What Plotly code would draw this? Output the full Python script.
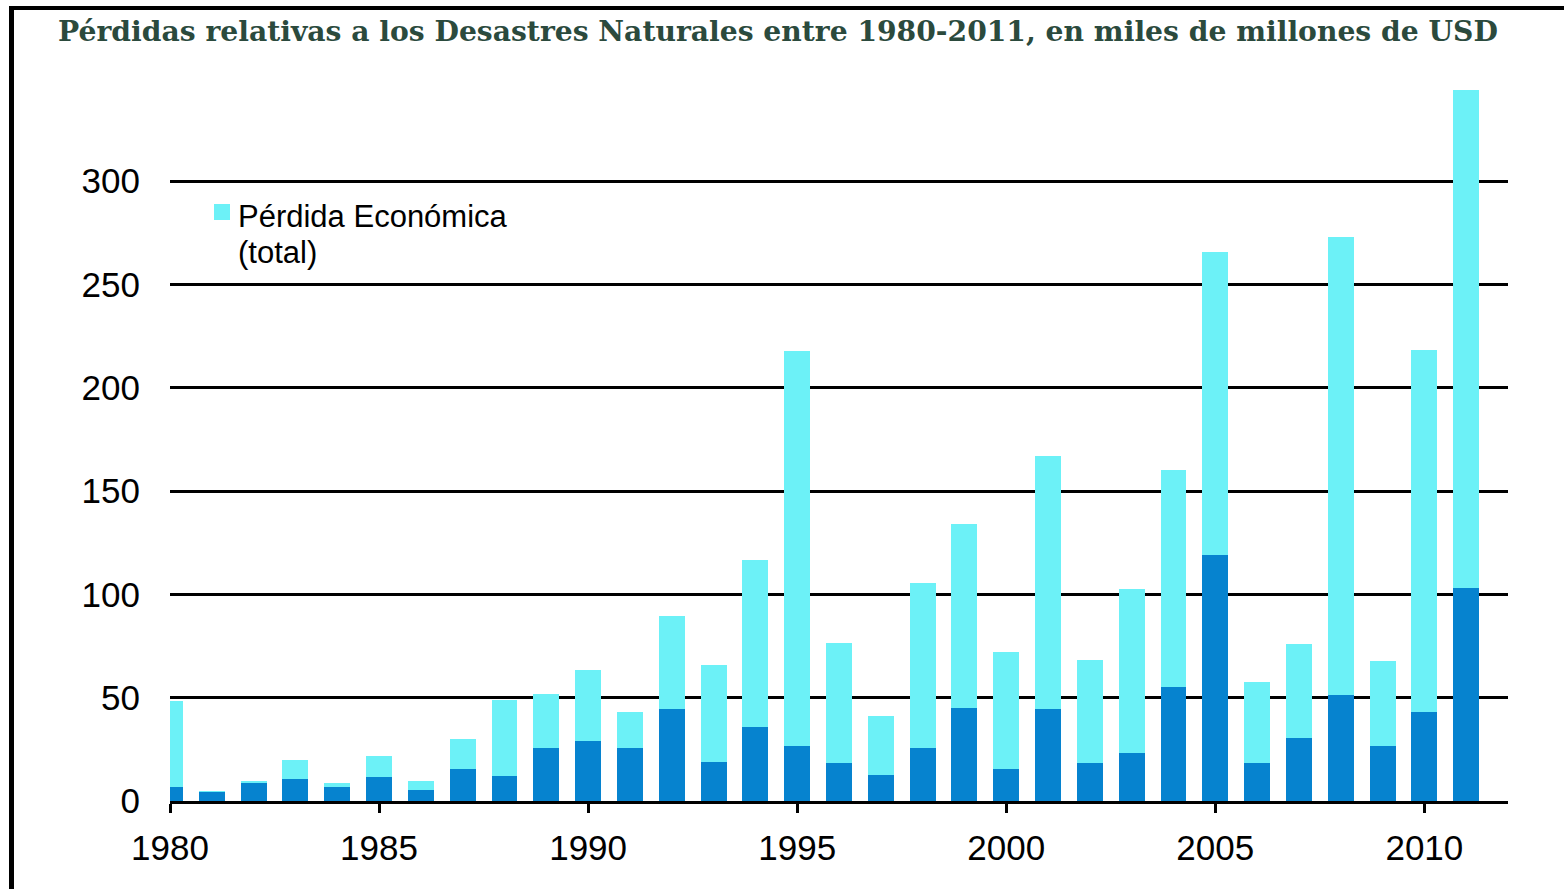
import plotly.graph_objects as go

years = list(range(1980, 2012))
total_loss = [48.4, 4.8, 9.7, 19.8, 8.9, 21.9, 9.7, 30.0, 48.9, 51.8,
              63.4, 43.1, 89.5, 65.8, 116.6, 217.9, 76.3, 41.3, 105.5, 133.9,
              72.1, 166.8, 68.2, 102.6, 160.0, 265.5, 57.7, 76.0, 272.9, 67.7,
              218.0, 344.0]
insured_loss = [6.8, 4.3, 8.9, 10.5, 6.9, 11.8, 5.5, 15.5, 12.1, 25.6,
                29.0, 25.6, 44.5, 18.9, 35.9, 26.6, 18.5, 12.7, 25.8, 45.1,
                15.5, 44.7, 18.2, 23.4, 55.3, 119.0, 18.5, 30.3, 51.1, 26.6,
                43.1, 103.0]
x_ticks = [1980, 1985, 1990, 1995, 2000, 2005, 2010]
y_ticks = [0, 50, 100, 150, 200, 250, 300]

title_text = "Pérdidas relativas a los Desastres Naturales entre 1980-2011, en miles de millones de USD"
legend_line1 = "Pérdida Económica"
legend_line2 = "(total)"

CYAN = "#6CF1F7"
BLUE = "#0683CF"

W, H = 1564, 889
L, R, T, B = 170, 56, 88, 88
pw, ph = W - L - R, H - T - B


def px_x(p):
    return (p - L) / pw


def px_y(p):
    return (H - B - p) / ph


fig = go.Figure()
fig.add_trace(go.Bar(x=years, y=total_loss, marker=dict(color=CYAN, line=dict(width=0)),
                     width=0.62, name="Pérdida Económica (total)", showlegend=False))
fig.add_trace(go.Bar(x=years, y=insured_loss, marker=dict(color=BLUE, line=dict(width=0)),
                     width=0.62, name="Pérdida asegurada", showlegend=False))

shapes = [
    # frame lines (top and left)
    dict(type="line", xref="paper", yref="paper", x0=px_x(9), x1=px_x(W + 5), y0=px_y(8), y1=px_y(8),
         line=dict(color="black", width=4)),
    dict(type="line", xref="paper", yref="paper", x0=px_x(11.5), x1=px_x(11.5), y0=px_y(6), y1=px_y(H + 5),
         line=dict(color="black", width=5)),
    # legend swatch
    dict(type="rect", xref="paper", yref="paper", x0=px_x(214), x1=px_x(230), y0=px_y(204), y1=px_y(220),
         fillcolor=CYAN, line=dict(width=0)),
]

annotations = [
    dict(text=legend_line1, xref="paper", yref="paper", x=px_x(236), y=px_y(216), xanchor="left",
         yanchor="middle", showarrow=False, font=dict(family="Liberation Sans, Arial", size=31, color="black")),
    dict(text=legend_line2, xref="paper", yref="paper", x=px_x(236), y=px_y(252), xanchor="left",
         yanchor="middle", showarrow=False, font=dict(family="Liberation Sans, Arial", size=31, color="black")),
]

fig.update_layout(
    width=W, height=H,
    margin=dict(l=L, r=R, t=T, b=B, autoexpand=False),
    paper_bgcolor="white", plot_bgcolor="white",
    barmode="overlay", bargap=0,
    title=dict(text="<b>" + title_text + "</b>", xref="paper", x=px_x(778), xanchor="center",
               yref="container", y=1 - 31 / H, yanchor="middle",
               font=dict(family="DejaVu Serif, serif", size=28.2, color="#2B4A3D")),
    shapes=shapes, annotations=annotations,
    xaxis=dict(range=[1980, 2012], tickvals=x_ticks, ticktext=[str(v) for v in x_ticks],
               showgrid=False, zeroline=False, showline=True, linecolor="black", linewidth=3,
               ticks="outside", ticklen=9, tickwidth=2.5, tickcolor="black",
               tickfont=dict(family="Liberation Sans, Arial", size=35, color="black"),
               ticklabelstandoff=5),
    yaxis=dict(range=[0, 345], tickvals=y_ticks, ticktext=[str(v) for v in y_ticks],
               showgrid=True, gridcolor="black", gridwidth=3, zeroline=False, showline=False,
               ticks="", tickfont=dict(family="Liberation Sans, Arial", size=35, color="black"),
               ticklabelstandoff=29),
)

fig.write_html("out.html", config={"displayModeBar": False},
               post_script="document.body.style.margin='0';document.body.style.overflow='hidden';")
